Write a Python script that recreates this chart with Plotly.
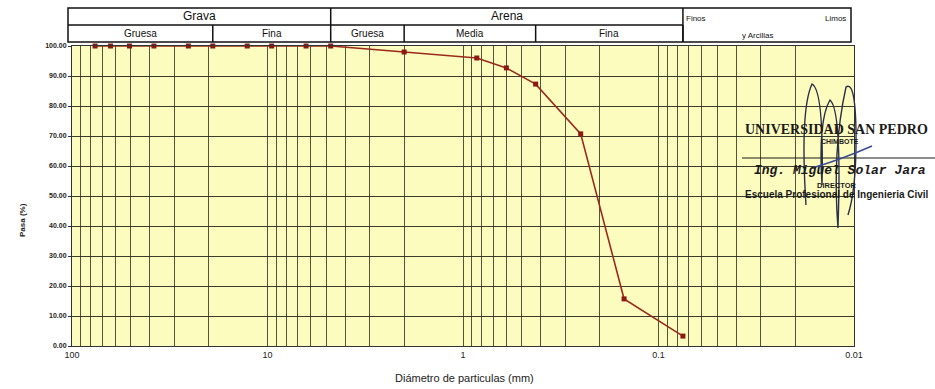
import numpy as np
import plotly.graph_objects as go

# ---------------- data ----------------
sieve_mm = [76.2, 63.5, 50.8, 38.1, 25.4, 19.05, 12.7, 9.525, 6.35, 4.75,
            2.00, 0.85, 0.60, 0.425, 0.25, 0.15, 0.075]
pasa = [100.0, 100.0, 100.0, 100.0, 100.0, 100.0, 100.0, 100.0, 100.0, 100.0,
        98.0, 96.0, 92.7, 87.3, 70.7, 15.7, 3.3]

x_tick_vals = [100, 10, 1, 0.1, 0.01]
x_tick_text = ["100", "10", "1", "0.1", "0.01"]
y_tick_vals = [0, 10, 20, 30, 40, 50, 60, 70, 80, 90, 100]

# header classification (mm limits)
row1_labels = ["Grava", "Arena"]
row1_limits = [(None, 4.75), (4.75, 0.075)]
row2_labels = ["Gruesa", "Fina", "Gruesa", "Media", "Fina"]
row2_limits = [(None, 19.05), (19.05, 4.75), (4.75, 2.0), (2.0, 0.425), (0.425, 0.075)]

# ---------------- geometry ----------------
W, H = 935, 389
ML, MR, MT, MB = 72, 81, 46, 43
PW = W - ML - MR
PH = H - MT - MB
XLOG_RANGE = [2, -2]


def xp_from_d(d):
    lg = np.log10(d)
    return (XLOG_RANGE[0] - lg) / (XLOG_RANGE[0] - XLOG_RANGE[1])


def px2x(px):
    return (px - ML) / PW


def py2y(py):
    return (H - MB - py) / PH


minor_vals = [m * 10.0 ** e for e in range(-2, 2) for m in range(2, 10)]

fig = go.Figure()
fig.add_trace(go.Scatter(
    x=sieve_mm, y=pasa, mode="lines+markers",
    line=dict(color="#9a2b1c", width=1.6),
    marker=dict(symbol="square", size=5, color="#8a1a12"),
    showlegend=False, cliponaxis=False,
))

grid_col = "rgba(40,40,30,0.8)"
fig.update_xaxes(
    type="log", range=XLOG_RANGE,
    tickvals=x_tick_vals, ticktext=x_tick_text,
    tickfont=dict(family="Liberation Sans", size=9, color="#222"),
    showgrid=True, gridcolor=grid_col, gridwidth=1,
    minor=dict(tickvals=minor_vals, showgrid=True, gridcolor=grid_col, gridwidth=1),
    showline=True, linecolor="#333", linewidth=1, mirror=True,
    ticks="", zeroline=False,
)
fig.update_yaxes(
    range=[0, 100], tickvals=y_tick_vals, tickformat=".2f",
    tickfont=dict(family="Liberation Sans", size=7, color="#222", weight="bold"),
    showgrid=True, gridcolor="rgba(40,40,30,0.9)", gridwidth=1.2,
    showline=True, linecolor="#333", linewidth=1, mirror=True,
    ticks="outside", ticklen=3, tickcolor="#333", zeroline=False,
)

shapes = []
annotations = []


def ann(text, x, y, size, xanchor="center", family="Liberation Sans", color="#111",
        weight=None, angle=0):
    f = dict(family=family, size=size, color=color)
    if weight:
        f["weight"] = weight
    annotations.append(dict(text=text, xref="paper", yref="paper", x=x, y=y,
                            xanchor=xanchor, yanchor="middle", showarrow=False,
                            textangle=angle, font=f))


# ---------------- header table ----------------
hdr_left = px2x(68)
hdr_right = px2x(851)
y_top = py2y(8)
y_mid = py2y(25)
y_bot = py2y(42)
line_k = dict(color="#111", width=1.5)

fines_x = xp_from_d(0.075)
shapes.append(dict(type="rect", xref="paper", yref="paper", x0=hdr_left, x1=hdr_right,
                   y0=y_bot, y1=y_top, line=line_k, fillcolor="rgba(0,0,0,0)"))
shapes.append(dict(type="line", xref="paper", yref="paper", x0=hdr_left, x1=fines_x,
                   y0=y_mid, y1=y_mid, line=line_k))

for lab, (a, b) in zip(row1_labels, row1_limits):
    x0 = hdr_left if a is None else xp_from_d(a)
    x1 = xp_from_d(b)
    shapes.append(dict(type="line", xref="paper", yref="paper", x0=x1, x1=x1,
                       y0=y_bot if b == 0.075 else y_mid, y1=y_top, line=line_k))
    ann(lab, (x0 + x1) / 2, (y_mid + y_top) / 2, 12)

for lab, (a, b) in zip(row2_labels, row2_limits):
    x0 = hdr_left if a is None else xp_from_d(a)
    x1 = xp_from_d(b)
    shapes.append(dict(type="line", xref="paper", yref="paper", x0=x1, x1=x1,
                       y0=y_bot, y1=y_mid, line=line_k))
    ann(lab, (x0 + x1) / 2, (y_bot + y_mid) / 2, 10)

ann("Finos", px2x(684), py2y(19), 8, xanchor="left")
ann("Limos", px2x(848), py2y(19), 8, xanchor="right")
ann("y Arcillas", px2x(758), py2y(35), 8)

# ---------------- axis titles ----------------
ann("Pasa (%)", px2x(22), py2y(220), 8, color="#222", weight="bold", angle=-90)
ann("Diámetro de particulas (mm)", px2x(464), py2y(378), 11, color="#222")

# ---------------- stamp ----------------
ink = "#1b1b1b"
ann("<b>UNIVERSIDAD SAN PEDRO</b>", px2x(743), py2y(129), 14, xanchor="left",
    family="Liberation Serif", color=ink)
ann("<b>CHIMBOTE</b>", px2x(840), py2y(141), 7, color=ink)
ann("<b><i>Ing. Miguel Solar Jara</i></b>", px2x(840), py2y(170), 13, xanchor="center",
    family="Liberation Mono", color=ink)
ann("<b>DIRECTOR</b>", px2x(837), py2y(185), 7.5, color=ink)
ann("<b>Escuela Profesional de Ingenieria Civil</b>", px2x(743), py2y(194), 10,
    xanchor="left", color=ink)

shapes.append(dict(type="line", xref="paper", yref="paper", x0=px2x(742), x1=px2x(935),
                   y0=py2y(158), y1=py2y(158), line=dict(color=ink, width=1.2)))

# signature scribble (pixel coordinates -> paper)
sig_px = [
    ("M", 806, 205), ("Q", 800, 110, 812, 84), ("Q", 824, 90, 822, 185),
    ("Q", 818, 120, 830, 100), ("Q", 842, 110, 838, 228),
    ("Q", 832, 150, 846, 87), ("Q", 856, 80, 856, 140), ("Q", 856, 190, 848, 215),
]


def sig_path(cmds):
    out = []
    for c in cmds:
        op, pts = c[0], c[1:]
        coords = []
        for i in range(0, len(pts), 2):
            coords.append(f"{px2x(pts[i]):.4f},{py2y(pts[i + 1]):.4f}")
        out.append(op + " " + " ".join(coords))
    return " ".join(out)


shapes.append(dict(type="path", xref="paper", yref="paper", path=sig_path(sig_px),
                   line=dict(color="#2a2f4a", width=1.4)))
shapes.append(dict(type="path", xref="paper", yref="paper",
                   path=sig_path([("M", 812, 168), ("Q", 840, 160, 872, 146)]),
                   line=dict(color="#3a4a9a", width=1.4)))

fig.update_layout(
    width=W, height=H,
    margin=dict(l=ML, r=MR, t=MT, b=MB),
    plot_bgcolor="#fdfcbf",
    paper_bgcolor="white",
    shapes=shapes,
    annotations=annotations,
    font=dict(family="Liberation Sans"),
)

fig.write_html("out.html")
